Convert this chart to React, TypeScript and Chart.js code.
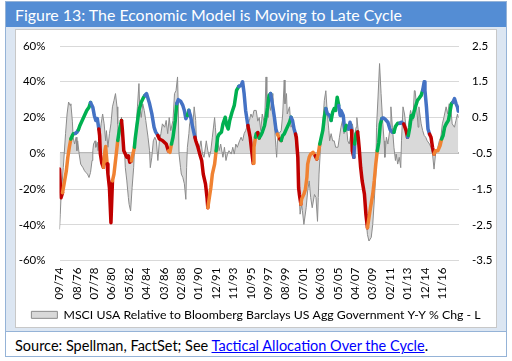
import React, { useEffect, useRef } from "react";
import { Chart, registerables } from "chart.js";

Chart.register(...registerables);

// ---------- Data ----------
const START_YEAR = 1974;
const START_MONTH = 9; // September 1974 = month index 0
const X_TICK_STEP = 23; // months between axis labels
const X_MAX = 528;

const titleText = "Figure 13: The Economic Model is Moving to Late Cycle";
const legendLabel = "MSCI USA Relative to Bloomberg Barclays US Agg Government Y-Y % Chg - L";
const modelLabel = "Economic Model";

const leftTicks = { min: -60, max: 60, step: 20 };
const rightTicks = { min: -3.5, max: 2.5, step: 1 };

// Grey area: MSCI USA relative performance (left axis, %), x = months since 09/74
const greyMonths = [
  0, 1, 2, 5, 8, 10, 12, 14, 15, 17, 18, 20, 22, 23, 24, 26, 28, 31, 33, 35, 37, 39, 41, 43, 44, 45, 47, 48, 50, 51,
  53, 55, 57, 59, 61, 62, 64, 66, 68, 70, 72, 74, 76, 77, 78, 80, 82, 83, 86, 87, 89, 91, 92, 94, 96, 98, 99, 101, 103, 105,
  106, 108, 110, 112, 114, 117, 119, 120, 122, 124, 126, 128, 130, 132, 134, 136, 139, 141, 143, 145, 147, 150, 152, 154, 156, 157, 158, 160, 161, 163,
  165, 167, 168, 169, 171, 172, 174, 176, 178, 180, 181, 183, 185, 187, 189, 191, 194, 196, 198, 200, 202, 205, 206, 208, 209, 211, 213, 216, 218, 220,
  222, 224, 227, 229, 231, 233, 235, 238, 240, 242, 244, 246, 249, 251, 253, 255, 257, 260, 262, 264, 266, 268, 271, 273, 274, 276, 277, 279, 282, 284,
  286, 287, 288, 290, 293, 295, 297, 298, 300, 301, 304, 306, 308, 310, 312, 314, 316, 318, 320, 321, 323, 326, 328, 330, 332, 334, 337, 339, 341, 342,
  343, 345, 348, 350, 352, 354, 356, 357, 359, 361, 363, 365, 368, 370, 372, 374, 376, 379, 381, 383, 385, 387, 390, 392, 393, 395, 396, 398, 401, 403,
  405, 407, 409, 412, 414, 416, 418, 419, 421, 423, 425, 427, 429, 430, 432, 434, 437, 438, 440, 442, 444, 445, 447, 449, 451, 452, 454, 456, 458, 460,
  462, 464, 467, 469, 470, 472, 474, 475, 478, 480, 482, 484, 486, 489, 491, 493, 495, 497, 500, 502, 504, 506, 508, 511, 513, 515, 517, 519, 522, 524,
  526, 527,
];
const greyValues = [
  -42.5, -34, -25, -8, 11, 22, 28.7, 26.8, 27.7, 18, 9, 5.2, 9, 1.5, 7, -0.4, -6, -8, -9.7, -10.7, -11.6, -13.5, -10.7, -4, 1.5, 5.2, 7, 3.4, 6.2, 1.5,
  9, 16.5, 22, 16.5, 7, 12.7, 3.4, 11, 16.5, 26, 29.6, 33.4, 26, 16.5, 7, 14.6, 20.2, 11, 1.5, -8, -15.4, -24.7, -28.5, -32.2, -19, -8, 1.5, 12.7, 26, 39,
  26, 20, 27.7, 24, 18.4, 9, 1.5, -8, -2.2, 7, 9, 7, -4, 7, 11, 16.5, 14.6, 18.4, 11, 20, 12.7, 18.4, 33.4, 35, 42.7, 26, -0.4, -8, -11.6, -13.5,
  -17, -25.7, -8, 3.4, 11, 16.5, 20, 14.6, 26, 18.4, 7, 5.2, 3.4, 7, -0.4, -2.2, 7, 1.5, -2.2, 1.5, 9, 20, 14.6, 3.4, 7, 1.5, 5.2, -2.2, 3.4, -4,
  -0.4, 1.5, -0.4, 3.4, -0.4, 5.2, 3.4, 7, 9, 7, 11, 12.7, 16.5, 18.4, 22, 20, 24, 24, 18, 20, 12.7, 22, 16.5, 42.7, 26, 20, 29.6, 24, 33.4, 16.5,
  3.4, -2.2, 7, 11, 12.7, 22, 41, 27.7, 33.4, 22, 26, 14.6, 16.5, 12.7, 7, -2.2, -15.4, -34, -28.5, -32, -39.7, -30.4, -21, -15.4, -24.7, -30.4, -23, -24.7, -38, -24.7,
  -11.6, 3.4, 16.5, 29.6, 35, 22, 12.7, 7, 11, 7, 7, 3.4, 3.4, 9, 14.6, 18.4, 11, 16.5, 7, 5.2, 11, 16.5, 9, 14.6, 20, 12, 1.5, -8, -15.4, -23,
  -36, -45.4, -49, -47, -39.7, -26.6, -11.6, 14.6, 31.5, 50.2, 33.4, 18.4, 7, -2.2, 9, 5.2, 14.6, 26, 14.6, 3.4, -4, -0.4, -6, -2.2, -8, 7, 26, 22, 14.6, 11,
  18.4, 24, 18.4, 35, 35, 26, 14.6, 26, 16.5, 12.7, 10, 9, 7, 5.2, 3.4, -0.4, -8.8, -0.4, 3.4, 7, 9, 16.5, 20, 26, 22, 27.7, 26, 16.5, 14.6, 18.4,
  22, 20,
];

// Coloured line: economic model (right axis). R = recession, O = early, G = mid, B = late cycle
const modelMonths = [
  0, 2, 4, 6, 9, 11, 13, 15, 17, 18, 21, 23, 25, 27, 30, 33, 36, 39, 41, 44, 46, 48, 50, 52, 53, 54, 56, 58, 60, 61,
  63, 64, 66, 68, 70, 72, 75, 77, 79, 82, 83, 85, 87, 89, 91, 93, 95, 97, 99, 100, 102, 105, 108, 111, 113, 115, 119, 122, 125, 127,
  130, 132, 136, 141, 144, 146, 148, 150, 153, 155, 157, 160, 163, 165, 167, 169, 171, 173, 176, 179, 180, 183, 186, 188, 190, 193, 195, 196, 198, 200,
  202, 205, 207, 209, 211, 214, 216, 219, 221, 223, 225, 228, 231, 234, 237, 240, 242, 244, 246, 249, 252, 254, 256, 257, 259, 260, 262, 264, 266, 268,
  271, 273, 275, 277, 279, 282, 284, 286, 288, 290, 291, 293, 295, 297, 299, 301, 304, 306, 308, 310, 312, 313, 315, 316, 317, 319, 320, 323, 325, 327,
  328, 330, 332, 335, 338, 340, 342, 344, 346, 348, 350, 352, 354, 357, 359, 361, 363, 365, 367, 369, 371, 372, 375, 377, 379, 382, 384, 386, 387, 389,
  390, 392, 394, 395, 396, 398, 400, 403, 405, 407, 409, 411, 414, 416, 418, 420, 422, 424, 426, 428, 431, 434, 437, 440, 442, 444, 447, 450, 452, 455,
  458, 460, 461, 463, 465, 467, 469, 471, 473, 475, 478, 480, 482, 483, 485, 487, 489, 491, 493, 495, 497, 500, 503, 505, 507, 509, 511, 514, 516, 518,
  520, 522, 524, 526, 527,
];
const modelValues = [
  -0.94, -1.74, -1.6, -1.36, -0.99, -0.61, -0.33, -0.1, 0.0, 0.04, 0.06, 0.09, 0.16, 0.28, 0.42, 0.56, 0.7, 0.79, 0.92, 0.79, 0.56, 0.42, 0.47, 0.18, 0.0, -0.52, -0.78, -0.89, -0.43, -0.31,
  -0.8, -1.08, -1.46, -2.44, -1.27, -1.08, -0.52, -0.14, 0.14, 0.42, 0.18, -0.43, -0.52, -0.61, -0.57, -0.75, -0.71, -0.52, -0.33, -0.1, 0.23, 0.7, 0.93, 1.06, 1.12, 1.17, 0.89, 0.61, 0.23, 0.1,
  0.0, -0.1, -0.14, -0.24, -0.43, -0.47, -0.24, -0.05, 0.42, 0.89, 1.0, 0.96, 0.84, 0.7, 0.47, 0.56, 0.7, 0.56, 0.23, -0.05, -0.14, -0.33, -0.57, -0.71, -1.08, -1.36, -1.74, -2.02, -1.74, -1.46,
  -1.08, -0.8, -0.43, -0.05, 0.04, 0.09, 0.32, 0.51, 0.28, 0.18, 0.42, 0.65, 0.84, 1.26, 1.37, 1.4, 1.5, 1.17, 0.7, 0.28, -0.05, -0.43, -0.78, -0.33, -0.05, 0.05, 0.08, -0.07, 0.0, 0.09,
  0.28, 0.51, 0.79, 1.12, 1.17, 0.79, 0.51, 0.18, 0.04, -0.05, -0.1, -0.14, 0.0, 0.04, 0.14, 0.23, 0.37, 0.51, 0.42, 0.18, 0.04, -0.05, -0.61, -1.46, -1.64, -1.92, -1.78, -1.64, -1.5, -1.17,
  -0.8, -0.61, -0.52, -0.47, -0.57, -0.66, -0.52, -0.24, -0.05, 0.14, 0.51, 0.75, 0.61, 0.56, 0.42, 0.65, 0.75, 0.7, 1.07, 0.84, 0.56, 0.7, 0.56, 0.14, 0.28, 0.18, 0.37, 0.14, -0.43, -0.61,
  -0.24, 0.05, 0.1, -0.1, -0.33, -0.89, -1.27, -1.64, -2.21, -2.58, -2.3, -2.02, -1.64, -1.27, -0.8, -0.43, -0.19, 0.32, 0.47, 0.49, 0.44, 0.37, 0.16, 0.09, 0.09, 0.25, 0.34, 0.34, 0.37, 0.32,
  0.14, -0.05, 0.0, 0.23, 0.56, 0.51, 0.7, 0.84, 0.98, 1.03, 1.12, 1.26, 1.5, 1.26, 0.79, 0.18, 0.04, -0.05, -0.33, -0.52, -0.43, -0.43, -0.28, -0.1, 0.0, 0.23, 0.32, 0.42, 0.65, 0.89,
  0.93, 1.03, 0.89, 0.79, 0.68,
];
const modelPhases = [
  "R", "R", "R", "O", "O", "O", "O", "O", "G", "G", "G", "B", "B", "G", "G", "G", "G", "G", "G", "B", "B", "B", "B", "B", "R", "R", "R", "R", "O", "O",
  "O", "R", "R", "R", "R", "O", "O", "O", "G", "G", "R", "R", "R", "R", "R", "R", "R", "O", "O", "G", "G", "G", "G", "G", "G", "B", "B", "B", "B", "B",
  "B", "R", "R", "R", "R", "O", "O", "G", "G", "G", "B", "B", "B", "B", "B", "B", "G", "B", "B", "B", "R", "R", "R", "R", "R", "R", "R", "R", "O", "O",
  "O", "O", "O", "G", "G", "G", "G", "G", "G", "G", "G", "G", "G", "G", "G", "B", "B", "B", "B", "B", "R", "R", "R", "O", "O", "G", "G", "R", "G", "G",
  "G", "G", "G", "G", "G", "B", "B", "B", "B", "O", "O", "R", "G", "G", "G", "G", "G", "G", "B", "B", "B", "R", "R", "R", "R", "R", "O", "O", "O", "O",
  "O", "O", "O", "O", "O", "R", "O", "O", "G", "G", "G", "G", "B", "B", "B", "G", "G", "G", "G", "G", "B", "B", "B", "B", "G", "G", "B", "B", "R", "R",
  "B", "G", "G", "R", "R", "R", "R", "R", "R", "R", "O", "O", "O", "O", "O", "O", "G", "G", "G", "B", "B", "B", "B", "B", "B", "G", "G", "G", "B", "B",
  "R", "R", "B", "G", "G", "G", "G", "G", "G", "G", "G", "G", "B", "B", "B", "B", "B", "R", "R", "R", "O", "O", "O", "O", "G", "G", "G", "G", "G", "G",
  "G", "B", "B", "B", "B",
];

const PHASE_COLORS: Record<string, string> = {
  R: "#C00000",
  O: "#F08232",
  G: "#00B050",
  B: "#4472C4",
};

const FONT = "Lato, 'Open Sans', sans-serif";

function formatMonth(m: number): string {
  const t = START_YEAR * 12 + (START_MONTH - 1) + Math.round(m);
  const mm = (t % 12) + 1;
  const yy = Math.floor(t / 12) % 100;
  return String(mm).padStart(2, "0") + "/" + String(yy).padStart(2, "0");
}

export default function App() {
  const canvasRef = useRef<HTMLCanvasElement | null>(null);

  useEffect(() => {
    document.body.style.margin = "0";
    const canvas = canvasRef.current;
    if (!canvas) return;

    const chart = new Chart(canvas, {
      type: "line",
      data: {
        datasets: [
          {
            label: modelLabel,
            data: modelMonths.map((m, i) => ({ x: m, y: modelValues[i] })),
            yAxisID: "yR",
            borderColor: PHASE_COLORS.B,
            borderWidth: 3.5,
            borderCapStyle: "round",
            borderJoinStyle: "round",
            pointRadius: 0,
            fill: false,
            order: 0,
            segment: {
              borderColor: (ctx: any) => PHASE_COLORS[modelPhases[ctx.p1DataIndex]],
            },
          } as any,
          {
            label: legendLabel,
            data: greyMonths.map((m, i) => ({ x: m, y: greyValues[i] })),
            yAxisID: "yL",
            borderColor: "#8C8C8C",
            borderWidth: 1,
            backgroundColor: "#D9D9D9",
            fill: "origin",
            pointRadius: 0,
            order: 1,
          } as any,
        ],
      },
      options: {
        animation: false,
        responsive: false,
        maintainAspectRatio: false,
        layout: { padding: { top: 16, left: 0, right: 0, bottom: 0 } },
        plugins: {
          legend: {
            position: "bottom",
            labels: {
              filter: (item: any) => item.datasetIndex === 1,
              boxWidth: 26,
              boxHeight: 7,
              padding: 0,
              color: "#000",
              font: { family: FONT, size: 12.3 },
            },
          },
          tooltip: { enabled: false },
        },
        scales: {
          x: {
            type: "linear",
            min: 0,
            max: X_MAX,
            grid: { display: false, drawTicks: false },
            border: { display: false },
            ticks: {
              stepSize: X_TICK_STEP,
              includeBounds: false,
              autoSkip: false,
              minRotation: 90,
              maxRotation: 90,
              padding: 7,
              color: "#000",
              font: { family: FONT, size: 11.5 },
              callback: (v: any) => (Number(v) % X_TICK_STEP === 0 ? formatMonth(Number(v)) : ""),
            },
            afterFit: (s: any) => {
              s.height = 48;
            },
          },
          yL: {
            position: "left",
            min: leftTicks.min,
            max: leftTicks.max,
            grid: {
              drawTicks: false,
              color: (c: any) => (c.tick && c.tick.value === 0 ? "#B8B8B8" : "#D9D9D9"),
              lineWidth: (c: any) => (c.tick && c.tick.value === 0 ? 2 : 1),
            },
            border: { display: false },
            ticks: {
              stepSize: leftTicks.step,
              padding: 14,
              color: "#000",
              font: { family: FONT, size: 11.5 },
              callback: (v: any) => v + "%",
            },
            afterFit: (s: any) => {
              s.width = 43.5;
              s.paddingTop = 0;
              s.paddingBottom = 0;
            },
          },
          yR: {
            position: "right",
            min: rightTicks.min,
            max: rightTicks.max,
            grid: { display: false, drawTicks: false },
            border: { display: false },
            ticks: {
              stepSize: rightTicks.step,
              padding: 13,
              color: "#000",
              font: { family: FONT, size: 11.5 },
              callback: (v: any) => Number(v).toFixed(1),
            },
            afterFit: (s: any) => {
              s.width = 37;
              s.paddingTop = 0;
              s.paddingBottom = 0;
            },
          },
        },
      } as any,
    });
    return () => chart.destroy();
  }, []);

  return (
    <div style={{ position: "absolute", left: 0, top: 0, width: 512, height: 361, background: "#fff", fontFamily: FONT }}>
      <div
        style={{
          position: "absolute",
          left: 5,
          top: 1,
          width: 502,
          height: 356,
          border: "1px solid #95B3D7",
          boxSizing: "border-box",
          background: "#fff",
        }}
      />
      <div
        style={{
          position: "absolute",
          left: 6,
          top: 2,
          width: 500,
          height: 25,
          background: "#548DD4",
          color: "#fff",
          fontSize: 15.9,
          lineHeight: "25px",
          paddingLeft: 9,
          boxSizing: "border-box",
          whiteSpace: "nowrap",
        }}
      >
        {titleText}
      </div>
      <div style={{ position: "absolute", left: 6, top: 27, width: 500, height: 304, background: "#DCE6F2" }} />
      <div
        style={{
          position: "absolute",
          left: 15,
          top: 29,
          width: 482,
          height: 299,
          background: "#fff",
          border: "1px solid #C8C8C8",
          boxSizing: "border-box",
        }}
      />
      <div style={{ position: "absolute", left: 6, top: 331, width: 500, height: 1, background: "#95B3D7" }} />
      <div
        style={{
          position: "absolute",
          left: 15,
          top: 337,
          fontSize: 14.5,
          lineHeight: "18px",
          color: "#000",
          whiteSpace: "nowrap",
        }}
      >
        Source: Spellman, FactSet; See{" "}
        <span style={{ color: "#0000FF", textDecoration: "underline" }}>Tactical Allocation Over the Cycle</span>.
      </div>
      <canvas
        ref={canvasRef}
        width={480}
        height={301}
        style={{ position: "absolute", left: 16, top: 30, width: 480, height: 301, display: "block" }}
      />
    </div>
  );
}
